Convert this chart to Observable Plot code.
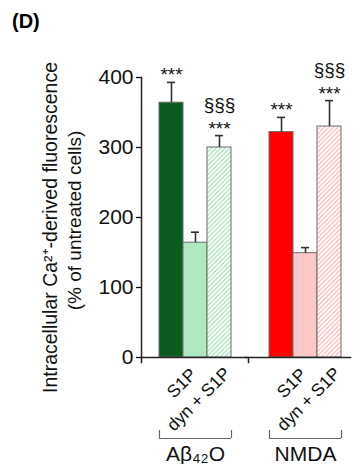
<!DOCTYPE html>
<html><head><meta charset="utf-8">
<script src="https://cdn.jsdelivr.net/npm/d3@7"></script>
<script src="https://cdn.jsdelivr.net/npm/@observablehq/plot@0.6"></script>
<style>
html,body{margin:0;padding:0;background:#fff;}
#wrap{position:relative;width:356px;height:464px;overflow:hidden;}
#panel{position:absolute;left:12px;top:11px;font:bold 20px "Liberation Sans",Arial,sans-serif;line-height:1;color:#000;}
</style></head><body>
<div id="wrap"><div id="panel">(D)</div></div>
<script>
// ---- data ----
const groups = ["Aβ₄₂O", "NMDA"];
const bars = ["control", "S1P", "dyn + S1P"];
const barLabels = ["", "S1P", "dyn + S1P"];
const meansAb = [364, 164, 300];
const semAb = [29, 15, 17];
const meansNmda = [322, 149, 330];
const semNmda = [21, 8, 37];
const starsAb = ["***", "", "***"];
const starsNmda = ["***", "", "***"];
const sectAb = ["", "", "§§§"];
const sectNmda = ["", "", "§§§"];
const yTicks = [0, 100, 200, 300, 400];
const yTitle = ["Intracellular Ca²⁺-derived fluorescence", "(% of untreated cells)"];

// ---- table ----
const means = [meansAb, meansNmda], sems = [semAb, semNmda];
const stars = [starsAb, starsNmda], sects = [sectAb, sectNmda];
const rows = groups.flatMap((g, gi) => bars.map((b, bi) => ({
  group: g, bar: b, key: g + "|" + b, label: barLabels[bi],
  mean: means[gi][bi], top: means[gi][bi] + sems[gi][bi],
  stars: stars[gi][bi], sect: sects[gi][bi]
})));
const keys = rows.map(d => d.key);
const fills = ["#0b5b1f", "#ade8c1", "url(#hatchG)", "#ff0000", "#ffc8c8", "url(#hatchR)"];

const W = 356, H = 464, mL = 141, mR = 6, mT = 77, mB = 107;
const frameH = H - mT - mB;
const font = '"Liberation Sans", Arial, sans-serif';
const zero = () => 0;
const FS = 19;

const chart = Plot.plot({
  width: W, height: H,
  marginLeft: mL, marginRight: mR, marginTop: mT, marginBottom: mB,
  style: {fontFamily: font, fontSize: FS + "px", background: "#fff", color: "#111"},
  fx: {domain: groups, paddingInner: 0.1, paddingOuter: 0, axis: null, label: null},
  x: {domain: bars, paddingInner: 0, paddingOuter: 0.5625, align: 0.667, axis: null, label: null},
  y: {domain: [0, 400], label: null},
  color: {type: "ordinal", domain: keys, range: fills},
  marks: [
    Plot.barY(rows, {fx: "group", x: "bar", y: "mean", fill: "key", stroke: "#6a6a6a", strokeWidth: 1}),
    Plot.ruleX(rows, {fx: "group", x: "bar", y1: "mean", y2: "top", stroke: "#333", strokeWidth: 1.6}),
    Plot.tickY(rows, {fx: "group", x: "bar", y: "top", stroke: "#333", strokeWidth: 1.6, insetLeft: 8, insetRight: 8}),
    Plot.text(rows, {fx: "group", x: "bar", y: "top", text: "stars", lineAnchor: "bottom", dy: -1, fontSize: FS}),
    Plot.text(rows, {fx: "group", x: "bar", y: "top", text: "sect", lineAnchor: "bottom", dy: -25, fontSize: FS}),
    // axes
    Plot.axisY({ticks: yTicks, tickSize: 5, tickPadding: 3, fontSize: 21, label: null, facetAnchor: "left", strokeWidth: 1.3}),
    Plot.frame({anchor: "left", facetAnchor: "left", insetBottom: -5, stroke: "#222", strokeWidth: 1.5}),
    Plot.frame({anchor: "bottom", facetAnchor: "left", insetRight: -6, stroke: "#222", strokeWidth: 1.5}),
    Plot.frame({anchor: "bottom", facetAnchor: "right", insetLeft: -6, stroke: "#222", strokeWidth: 1.5}),
    Plot.frame({anchor: "left", facetAnchor: "right", insetLeft: -3, insetTop: frameH, insetBottom: -5, stroke: "#222", strokeWidth: 1.5}),
    // rotated bar labels
    Plot.text(rows.filter(d => d.bar === bars[1]), {fx: "group", x: "bar", y: zero, text: "label", textAnchor: "end", lineAnchor: "bottom", rotate: -45, dx: 2, dy: 18, fontSize: 17.5}),
    Plot.text(rows.filter(d => d.bar === bars[2]), {fx: "group", x: "bar", y: zero, text: "label", textAnchor: "end", lineAnchor: "bottom", rotate: -45, dx: 12, dy: 17, fontSize: 17.5}),
    // group brackets
    Plot.ruleY(groups, {fx: d => d, y: zero, x1: () => bars[0], x2: () => bars[2], dy: 81, stroke: "#666", strokeWidth: 1.2}),
    Plot.ruleX(groups, {fx: d => d, x: () => bars[0], y1: zero, y2: zero, dy: 81, dx: -12, insetTop: -8, stroke: "#666", strokeWidth: 1.2}),
    Plot.ruleX(groups, {fx: d => d, x: () => bars[2], y1: zero, y2: zero, dy: 81, dx: 12, insetTop: -8, stroke: "#666", strokeWidth: 1.2}),
    Plot.text(groups, {fx: d => d, x: () => bars[1], y: zero, text: d => d, lineAnchor: "bottom", dy: 103, fontSize: 21}),
    // y-axis title
    Plot.text([yTitle[0]], {fx: () => groups[0], frameAnchor: "left", text: d => d, rotate: -90, textAnchor: "middle", dx: -91, dy: 10, fontSize: 19.5}),
    Plot.text([yTitle[1]], {fx: () => groups[0], frameAnchor: "left", text: d => d, rotate: -90, textAnchor: "middle", dx: -67, dy: 3, fontSize: 19})
  ]
});

chart.insertAdjacentHTML("afterbegin", `<defs>
<pattern id="hatchG" patternUnits="userSpaceOnUse" width="3.2" height="3.2" patternTransform="rotate(45)">
<rect width="3.2" height="3.2" fill="#fff"/><line x1="1.6" y1="0" x2="1.6" y2="3.2" stroke="#a9e4bb" stroke-width="1.3"/></pattern>
<pattern id="hatchR" patternUnits="userSpaceOnUse" width="3.2" height="3.2" patternTransform="rotate(45)">
<rect width="3.2" height="3.2" fill="#fff"/><line x1="1.6" y1="0" x2="1.6" y2="3.2" stroke="#ffbcbc" stroke-width="1.3"/></pattern>
</defs>`);
document.getElementById("wrap").prepend(chart);
</script>
</body></html>
